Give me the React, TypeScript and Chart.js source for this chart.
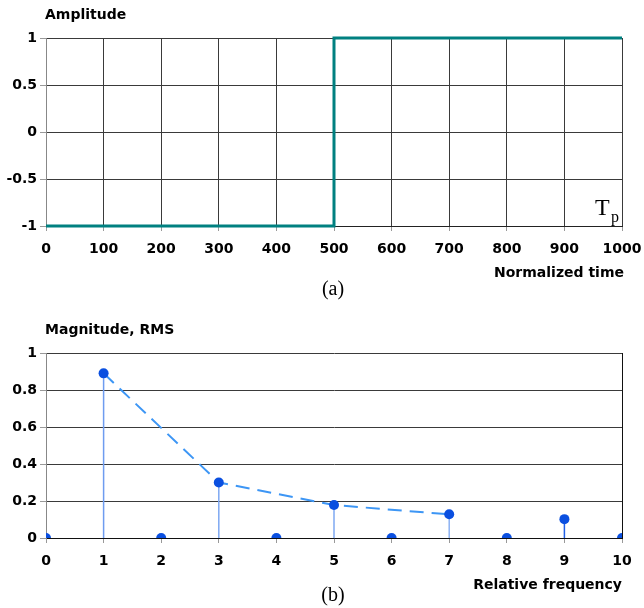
import React, { useEffect, useRef } from "react";
import { Chart, registerables } from "chart.js";

Chart.register(...registerables);

// ---- Data: panel (a) square wave ----
const timePoints = [0, 500, 500, 1000];
const amplitudeValues = [-1, -1, 1, 1];

// ---- Data: panel (b) spectrum ----
const freqs = [0, 1, 2, 3, 4, 5, 6, 7, 8, 9, 10];
const magnitudes = [0, 0.89, 0, 0.3, 0, 0.178, 0, 0.128, 0, 0.102, 0];
const envelopeFreqs = [1, 3, 5, 7];
const stemFreqs = [1, 3, 5, 7, 9];
const stemColors = ["#6e9cf0", "#7ea8f2", "#7ea8f2", "#8db2f3", "#1f5fe6"];

const FONT = "'DejaVu Sans', 'Noto Sans', sans-serif";
const tickFont = { family: FONT, size: 14, weight: "bold" as const };

function textPlugin(items: { text: string; x: number; y: number; font: string; align: CanvasTextAlign; color?: string }[]) {
  return {
    id: "overlayText",
    afterDraw(chart: any) {
      const ctx = chart.ctx;
      for (const t of items) {
        ctx.save();
        ctx.font = t.font;
        ctx.fillStyle = t.color || "#000";
        ctx.textAlign = t.align;
        ctx.textBaseline = "middle";
        ctx.fillText(t.text, t.x, t.y);
        ctx.restore();
      }
    },
  };
}

const fitX = (h: number) => (s: any) => {
  s.height = h;
  s.paddingLeft = 0;
  s.paddingRight = 0;
};
const fitY = (s: any) => {
  s.width = 46;
  s.paddingTop = 0;
  s.paddingBottom = 0;
};

export default function App() {
  const ref1 = useRef<HTMLCanvasElement>(null);
  const ref2 = useRef<HTMLCanvasElement>(null);

  useEffect(() => {
    const waveData = timePoints.map((t, i) => ({ x: t, y: amplitudeValues[i] }));
    const c1 = new Chart(ref1.current!, {
      type: "line",
      data: {
        datasets: [
          {
            data: waveData,
            borderColor: "#008080",
            borderWidth: 3,
            pointRadius: 0,
            tension: 0,
            clip: false as any,
          },
        ],
      },
      options: {
        responsive: false,
        animation: false,
        events: [],
        layout: { padding: { left: 0, top: 38, right: 22, bottom: 0 } },
        plugins: { legend: { display: false }, tooltip: { enabled: false } },
        scales: {
          x: {
            type: "linear",
            min: 0,
            max: 1000,
            afterFit: fitX(74),
            ticks: {
              stepSize: 100,
              font: tickFont,
              color: "#000",
              padding: 10,
              maxRotation: 0,
              autoSkip: false,
              callback: (v: any) => String(v),
            },
            grid: { color: "#3a3a3a", tickLength: 5, tickColor: "#999" },
            border: { color: "#222" },
          },
          y: {
            min: -1,
            max: 1,
            afterFit: fitY,
            ticks: {
              stepSize: 0.5,
              font: tickFont,
              color: "#000",
              padding: 3,
              callback: (v: any) => String(v),
            },
            grid: { color: "#3a3a3a", tickLength: 6, tickColor: "#999" },
            border: { color: "#888" },
          },
        },
      },
      plugins: [
        textPlugin([
          { text: "Amplitude", x: 45, y: 15, font: `bold 14px ${FONT}`, align: "left" },
          { text: "Normalized time", x: 624, y: 273, font: `bold 14px ${FONT}`, align: "right" },
          { text: "(a)", x: 333, y: 290, font: "20px 'Liberation Serif', serif", align: "center" },
          { text: "T", x: 595, y: 209, font: "24px 'Liberation Serif', serif", align: "left" },
          { text: "p", x: 611, y: 218, font: "16px 'Liberation Serif', serif", align: "left" },
        ]),
      ],
    });

    const pointData = freqs.map((f, i) => ({ x: f, y: magnitudes[i] }));
    const envData = envelopeFreqs.map((f) => ({ x: f, y: magnitudes[freqs.indexOf(f)] }));
    const stems = stemFreqs.map((f, i) => ({
      data: [
        { x: f, y: 0 },
        { x: f, y: magnitudes[freqs.indexOf(f)] },
      ],
      borderColor: stemColors[i],
      borderWidth: 1.5,
      pointRadius: 0,
    }));

    const c2 = new Chart(ref2.current!, {
      type: "line",
      data: {
        datasets: [
          {
            data: pointData,
            showLine: false,
            pointRadius: 5,
            pointBackgroundColor: "#0a4fe0",
            pointBorderColor: "#0a4fe0",
            pointBorderWidth: 0,
          },
          {
            data: envData,
            borderColor: "#3d96f5",
            borderWidth: 2,
            borderDash: [14, 8],
            pointRadius: 0,
            tension: 0,
          },
          ...stems,
        ] as any,
      },
      options: {
        responsive: false,
        animation: false,
        events: [],
        layout: { padding: { left: 0, top: 53, right: 22, bottom: 0 } },
        plugins: { legend: { display: false }, tooltip: { enabled: false } },
        scales: {
          x: {
            type: "linear",
            min: 0,
            max: 10,
            afterFit: fitX(70),
            ticks: {
              stepSize: 1,
              font: tickFont,
              color: "#000",
              padding: 10,
              maxRotation: 0,
              autoSkip: false,
              callback: (v: any) => String(v),
            },
            grid: { drawOnChartArea: false, tickLength: 5, tickColor: "#999" },
            border: { color: "#111" },
          },
          y: {
            min: 0,
            max: 1,
            afterFit: fitY,
            ticks: {
              stepSize: 0.2,
              font: tickFont,
              color: "#000",
              padding: 3,
              callback: (v: any) => String(Math.round(v * 10) / 10),
            },
            grid: { color: "#3a3a3a", tickLength: 6, tickColor: "#999" },
            border: { color: "#888" },
          },
        },
      },
      plugins: [
        {
          id: "rightBorder",
          beforeDatasetsDraw(chart: any) {
            const { ctx, chartArea } = chart;
            ctx.save();
            ctx.strokeStyle = "#111";
            ctx.lineWidth = 1;
            ctx.beginPath();
            const x = Math.round(chartArea.right) + 0.5;
            ctx.moveTo(x, chartArea.top);
            ctx.lineTo(x, chartArea.bottom);
            ctx.stroke();
            ctx.restore();
          },
        },
        textPlugin([
          { text: "Magnitude, RMS", x: 45, y: 30, font: `bold 14px ${FONT}`, align: "left" },
          { text: "Relative frequency", x: 622, y: 285, font: `bold 14px ${FONT}`, align: "right" },
          { text: "(b)", x: 333, y: 296, font: "20px 'Liberation Serif', serif", align: "center" },
        ]),
      ],
    });

    return () => {
      c1.destroy();
      c2.destroy();
    };
  }, []);

  return (
    <div style={{ position: "absolute", left: 0, top: 0, width: 644, height: 608, background: "#fff" }}>
      <canvas ref={ref1} width={644} height={300} style={{ position: "absolute", left: 0, top: 0, width: 644, height: 300 }} />
      <canvas ref={ref2} width={644} height={308} style={{ position: "absolute", left: 0, top: 300, width: 644, height: 308 }} />
    </div>
  );
}
